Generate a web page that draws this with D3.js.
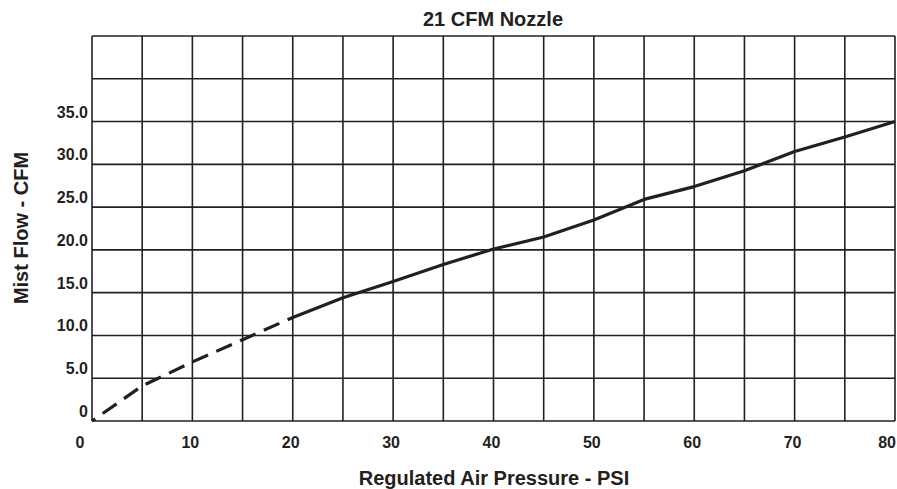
<!DOCTYPE html>
<html>
<head>
<meta charset="utf-8">
<script src="https://cdn.jsdelivr.net/npm/d3@7"></script>
<style>
  body { margin: 0; background: #fff; }
  text { font-family: "Liberation Sans", Arial, sans-serif; font-weight: bold; fill: #231f20; }
</style>
</head>
<body>
<div id="chart"></div>
<script>
// Chart values
const pressure = [0, 5, 10, 15, 20, 25, 30, 35, 40, 45, 50, 55, 60, 65, 70, 75, 80];
const flow = [0, 4.1, 6.9, 9.5, 12.1, 14.4, 16.3, 18.3, 20.1, 21.5, 23.5, 25.9, 27.4, 29.25, 31.5, 33.2, 35.0];
const xTicks = [0, 10, 20, 30, 40, 50, 60, 70, 80];
const yTicks = [0, 5, 10, 15, 20, 25, 30, 35];
const xGrid = d3.range(0, 81, 5);
const yGrid = d3.range(0, 46, 5);

// dimensions
const width = 897;
const height = 489;
const margin = {left: 92, right: 2, top: 36, bottom: 68};

const xScale = d3.scaleLinear().domain([0, 80]).range([margin.left, width - margin.right]);
const yScale = d3.scaleLinear().domain([0, 45]).range([height - margin.bottom, margin.top]);

const svg = d3.select("#chart")
  .append("svg")
  .attr("width", width)
  .attr("height", height)
  .attr("viewBox", [0, 0, width, height]);

// grid lines
svg.append("g")
  .selectAll("line")
  .data(xGrid)
  .join("line")
    .attr("x1", d => xScale(d))
    .attr("x2", d => xScale(d))
    .attr("y1", yScale(0))
    .attr("y2", yScale(45))
    .attr("stroke", "#231f20")
    .attr("stroke-width", 1.6);

svg.append("g")
  .selectAll("line")
  .data(yGrid)
  .join("line")
    .attr("x1", xScale(0))
    .attr("x2", xScale(80))
    .attr("y1", d => yScale(d))
    .attr("y2", d => yScale(d))
    .attr("stroke", "#231f20")
    .attr("stroke-width", 1.6);

// x tick labels (the last one sits flush with the right edge)
svg.append("g")
  .selectAll("text")
  .data(xTicks)
  .join("text")
    .attr("x", d => d === 0 ? xScale(d) - 12 : (d === 80 ? width - 1 : xScale(d) - 2))
    .attr("y", 448)
    .attr("text-anchor", d => d === 80 ? "end" : "middle")
    .attr("font-size", "16px")
    .text(d => d);

// y tick labels
svg.append("g")
  .selectAll("text")
  .data(yTicks)
  .join("text")
    .attr("x", 88)
    .attr("y", d => yScale(d) - 4)
    .attr("text-anchor", "end")
    .attr("font-size", "16px")
    .text(d => d === 0 ? "0" : d.toFixed(1));

// the curve: dashed below 20 psi, solid above
const pts = pressure.map((p, i) => ({p: p, f: flow[i]}));
const line = d3.line()
  .x(d => xScale(d.p))
  .y(d => yScale(d.f));

svg.append("path")
  .datum(pts.filter(d => d.p <= 20))
  .attr("d", line)
  .attr("fill", "none")
  .attr("stroke", "#231f20")
  .attr("stroke-width", 3.2)
  .attr("stroke-dasharray", "17,9")
  .attr("stroke-dashoffset", 13);

svg.append("path")
  .datum(pts.filter(d => d.p >= 20))
  .attr("d", line)
  .attr("fill", "none")
  .attr("stroke", "#231f20")
  .attr("stroke-width", 3.2)
  .attr("stroke-linejoin", "round");

// titles
svg.append("text")
  .attr("x", 493)
  .attr("y", 26)
  .attr("text-anchor", "middle")
  .attr("font-size", "20px")
  .text("21 CFM Nozzle");

svg.append("text")
  .attr("x", 494)
  .attr("y", 485)
  .attr("text-anchor", "middle")
  .attr("font-size", "20px")
  .text("Regulated Air Pressure - PSI");

svg.append("text")
  .attr("transform", "translate(28,228) rotate(-90)")
  .attr("text-anchor", "middle")
  .attr("font-size", "20px")
  .text("Mist Flow - CFM");
</script>
</body>
</html>
